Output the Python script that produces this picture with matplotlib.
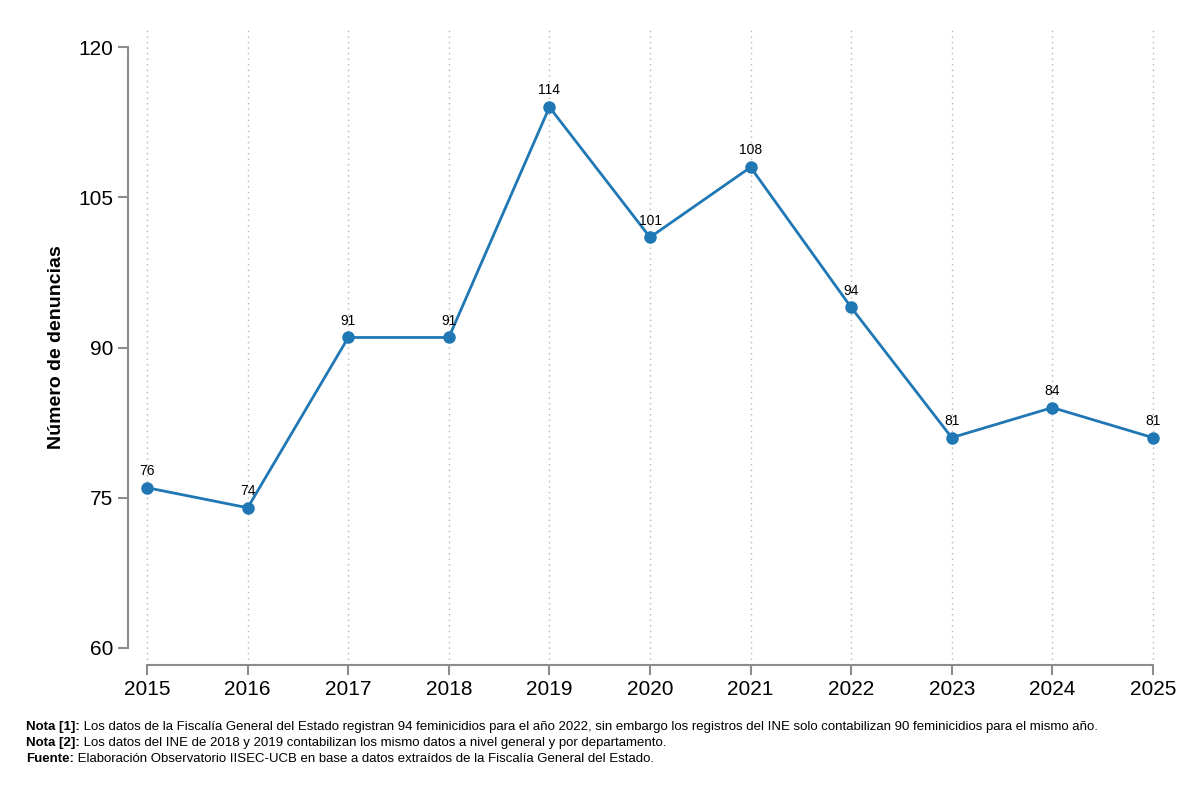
import matplotlib
matplotlib.use("Agg")
import matplotlib.pyplot as plt

# Data
years = [2015, 2016, 2017, 2018, 2019, 2020, 2021, 2022, 2023, 2024, 2025]
denuncias = [76, 74, 91, 91, 114, 101, 108, 94, 81, 84, 81]
y_ticks = [60, 75, 90, 105, 120]

plt.rcParams['font.family'] = ['Liberation Sans', 'DejaVu Sans']

fig = plt.figure(figsize=(12, 8.01), dpi=100)
ax = fig.add_axes([128/1200, 1 - 665/801, 1044/1200, 635/801])

ax.set_xlim(2014.81, 2025.19)
ax.set_ylim(58.3, 121.7)

# dotted vertical grid
for yr in years:
    ax.axvline(yr, color='#b5b5b5', linestyle=(0, (1, 3)), linewidth=1, zorder=0)

ax.plot(years, denuncias, color='#1f77b4', linewidth=2, marker='o', markersize=8, zorder=3)
for x, y in zip(years, denuncias):
    ax.annotate(str(y), (x, y), xytext=(0, 7), textcoords='offset points',
                ha='center', va='bottom', fontsize=10)

for s in ['top', 'right']:
    ax.spines[s].set_visible(False)
for s in ['left', 'bottom']:
    ax.spines[s].set_color('#8c8c8c')
    ax.spines[s].set_linewidth(1.5)
ax.spines['left'].set_bounds(60, 120)
ax.spines['bottom'].set_bounds(2015, 2025)

ax.set_xticks(years)
ax.set_yticks(y_ticks)
ax.tick_params(axis='both', colors='#8c8c8c', labelcolor='black', labelsize=15,
               length=7, width=1.5)
ax.set_ylabel('Número de denuncias', fontsize=14, fontweight='bold', labelpad=10)

notes = [
    ('Nota [1]:', ' Los datos de la Fiscalía General del Estado registran 94 feminicidios para el año 2022, sin embargo los registros del INE solo contabilizan 90 feminicidios para el mismo año.'),
    ('Nota [2]:', ' Los datos del INE de 2018 y 2019 contabilizan los mismo datos a nivel general y por departamento.'),
    ('Fuente:', ' Elaboración Observatorio IISEC-UCB en base a datos extraídos de la Fiscalía General del Estado.'),
]
ypos = [727, 743, 759]
for (b, t), yp in zip(notes, ypos):
    tb = fig.text(26/1200, 1 - yp/801, b, fontsize=9.5, fontweight='bold', va='center')
    fig.canvas.draw()
    bb = tb.get_window_extent()
    fig.text(bb.x1/1200, 1 - yp/801, t, fontsize=9.5, va='center')

fig.savefig('out.png', dpi=100)
